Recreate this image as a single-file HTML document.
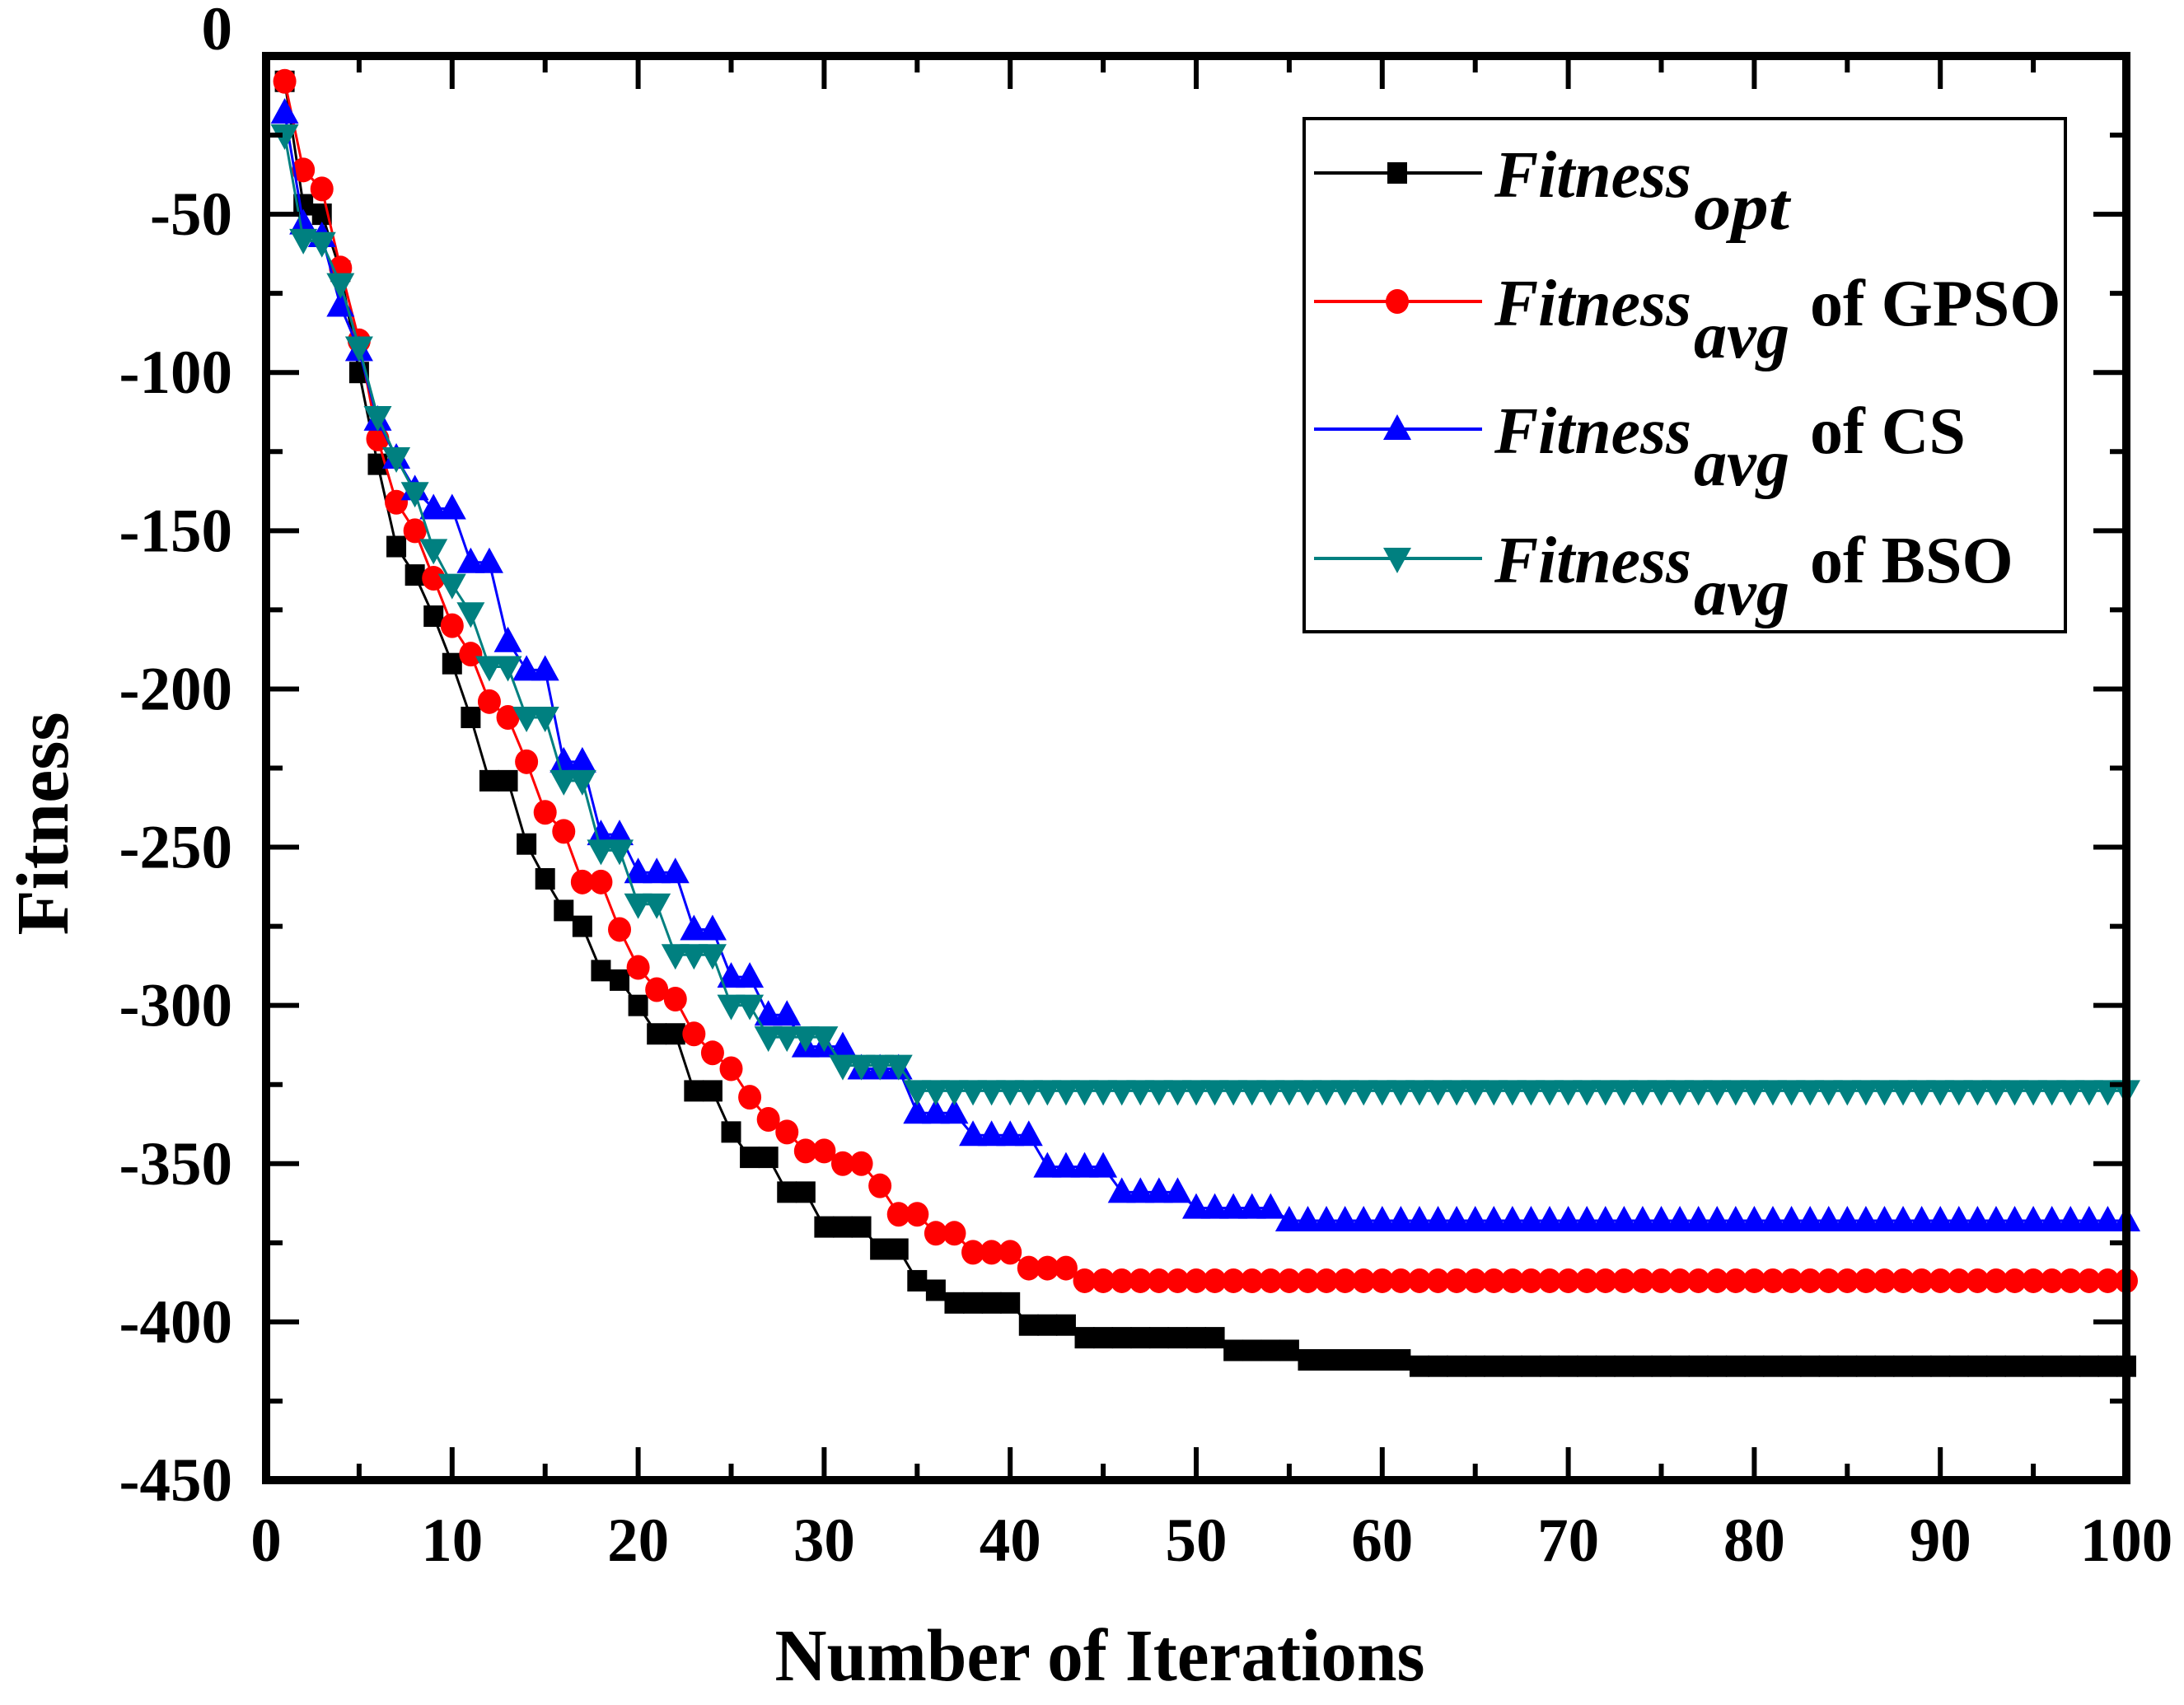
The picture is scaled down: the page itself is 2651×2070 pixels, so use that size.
<!DOCTYPE html>
<html><head><meta charset="utf-8"><style>
html,body{margin:0;padding:0;background:#fff;}
svg{display:block;}
text{font-family:"Liberation Serif",serif;font-weight:bold;}
</style></head><body>
<svg id="chart" width="2651" height="2070" viewBox="0 0 2651 2070" xmlns="http://www.w3.org/2000/svg">
<g id="series"></g>
<g id="axes"></g>
<g id="legend">
<rect x="1583" y="144" width="924" height="623" fill="#fff" stroke="#000" stroke-width="4"/>
</g>
<text x="1335" y="2040" font-size="90" text-anchor="middle" textLength="789" lengthAdjust="spacingAndGlyphs">Number of Iterations</text>
<text x="0" y="0" font-size="90" text-anchor="middle" transform="translate(82,1000) rotate(-90)" textLength="271" lengthAdjust="spacingAndGlyphs">Fitness</text>
</svg>
<script>
const xTicks=[0,10,20,30,40,50,60,70,80,90,100];
const yTicks=[0,-50,-100,-150,-200,-250,-300,-350,-400,-450];
const opt=[-8,-47,-50,-68,-100,-129,-155,-164,-177,-192,-209,-229,-229,-249,-260,-270,-275,-289,-292,-300,-309,-309,-327,-327,-340,-348,-348,-359,-359,-370,-370,-370,-377,-377,-387,-390,-394,-394,-394,-394,-401,-401,-401,-405,-405,-405,-405,-405,-405,-405,-405,-409,-409,-409,-409,-412,-412,-412,-412,-412,-412,-414,-414,-414,-414,-414,-414,-414,-414,-414,-414,-414,-414,-414,-414,-414,-414,-414,-414,-414,-414,-414,-414,-414,-414,-414,-414,-414,-414,-414,-414,-414,-414,-414,-414,-414,-414,-414,-414,-414];
const gpso=[-8,-36,-42,-67,-90,-121,-141,-150,-165,-180,-189,-204,-209,-223,-239,-245,-261,-261,-276,-288,-295,-298,-309,-315,-320,-329,-336,-340,-346,-346,-350,-350,-357,-366,-366,-372,-372,-378,-378,-378,-383,-383,-383,-387,-387,-387,-387,-387,-387,-387,-387,-387,-387,-387,-387,-387,-387,-387,-387,-387,-387,-387,-387,-387,-387,-387,-387,-387,-387,-387,-387,-387,-387,-387,-387,-387,-387,-387,-387,-387,-387,-387,-387,-387,-387,-387,-387,-387,-387,-387,-387,-387,-387,-387,-387,-387,-387,-387,-387,-387];
const cs=[-18,-53,-57,-79,-93,-115,-127,-137,-143,-143,-160,-160,-185,-194,-194,-223,-223,-246,-246,-258,-258,-258,-276,-276,-291,-291,-303,-303,-313,-313,-313,-320,-320,-320,-334,-334,-334,-341,-341,-341,-341,-351,-351,-351,-351,-359,-359,-359,-359,-364,-364,-364,-364,-364,-368,-368,-368,-368,-368,-368,-368,-368,-368,-368,-368,-368,-368,-368,-368,-368,-368,-368,-368,-368,-368,-368,-368,-368,-368,-368,-368,-368,-368,-368,-368,-368,-368,-368,-368,-368,-368,-368,-368,-368,-368,-368,-368,-368,-368,-368];
const bso=[-25,-58,-59,-72,-92,-114,-127,-138,-156,-167,-176,-193,-193,-209,-209,-229,-229,-251,-251,-268,-268,-284,-284,-284,-300,-300,-310,-310,-310,-310,-319,-319,-319,-319,-327,-327,-327,-327,-327,-327,-327,-327,-327,-327,-327,-327,-327,-327,-327,-327,-327,-327,-327,-327,-327,-327,-327,-327,-327,-327,-327,-327,-327,-327,-327,-327,-327,-327,-327,-327,-327,-327,-327,-327,-327,-327,-327,-327,-327,-327,-327,-327,-327,-327,-327,-327,-327,-327,-327,-327,-327,-327,-327,-327,-327,-327,-327,-327,-327,-327];

const NS="http://www.w3.org/2000/svg";
const X0=323,X1=2581,Y0=68,Y1=1797;
function sx(v){return X0+(v-0)/(100-0)*(X1-X0);}
function sy(v){return Y0+(0-v)/(0-(-450))*(Y1-Y0);}
function mk(tag,attrs,parent){const e=document.createElementNS(NS,tag);for(const k in attrs)e.setAttribute(k,attrs[k]);parent.appendChild(e);return e;}

const seriesG=document.getElementById('series');
const axesG=document.getElementById('axes');
const legendG=document.getElementById('legend');

function marker(type,cx,cy,color,parent){
  let e;
  if(type==='square'){e=mk('rect',{x:cx-12,y:cy-13,width:24,height:26,fill:color},parent);}
  else if(type==='circle'){e=mk('ellipse',{cx:cx,cy:cy,rx:14,ry:15,fill:color},parent);}
  else if(type==='up'){e=mk('polygon',{points:`${cx},${cy-18} ${cx-17},${cy+13} ${cx+17},${cy+13}`,fill:color},parent);}
  else {e=mk('polygon',{points:`${cx},${cy+18} ${cx-17},${cy-13} ${cx+17},${cy-13}`,fill:color},parent);}
  return e;
}

const defs=[
 {vals:opt,color:'#000000',type:'square',name:'fitness-opt'},
 {vals:gpso,color:'#ff0000',type:'circle',name:'gpso'},
 {vals:cs,color:'#0000ff',type:'up',name:'cs'},
 {vals:bso,color:'#008080',type:'down',name:'bso'}
];
defs.forEach(d=>{
  const g=mk('g',{},seriesG);
  
  
  const pts=d.vals.map((v,i)=>sx(i+1)+','+sy(v)).join(' ');
  const pl=mk('polyline',{points:pts,fill:'none',stroke:d.color,'stroke-width':3},g);
  
  
  d.vals.forEach((v,i)=>{
    const m=marker(d.type,sx(i+1),sy(v),d.color,g);
    
    
  });
});

// frame
const frame=mk('rect',{x:X0,y:Y0,width:X1-X0,height:Y1-Y0,fill:'none',stroke:'#000','stroke-width':10},axesG);


// x ticks
for(let v=0;v<=100;v+=5){
  const major=v%10===0, L=major?40:20, x=sx(v);
  const t1=mk('line',{x1:x,y1:Y1,x2:x,y2:Y1-L,stroke:'#000','stroke-width':6},axesG);
  
  
  const t2=mk('line',{x1:x,y1:Y0,x2:x,y2:Y0+L,stroke:'#000','stroke-width':6},axesG);
  
  
}
xTicks.forEach(v=>{
  const t=mk('text',{x:sx(v),y:1895,'font-size':75,'text-anchor':'middle'},axesG);
  t.textContent=String(v);
  
  
});
for(let v=0;v>=-450;v-=25){
  const major=v%50===0, L=major?40:20, y=sy(v);
  const t1=mk('line',{x1:X0,y1:y,x2:X0+L,y2:y,stroke:'#000','stroke-width':6},axesG);
  
  
  const t2=mk('line',{x1:X1,y1:y,x2:X1-L,y2:y,stroke:'#000','stroke-width':6},axesG);
  
  
}
yTicks.forEach(v=>{
  const t=mk('text',{x:282,y:sy(v)+(v===0?-8:25),'font-size':75,'text-anchor':'end'},axesG);
  t.textContent=String(v);
  
  
});

// legend entries
const legRows=[
 {y:210,color:'#000000',type:'square',sub:'opt',rest:''},
 {y:366,color:'#ff0000',type:'circle',sub:'avg',rest:'of GPSO'},
 {y:521,color:'#0000ff',type:'up',sub:'avg',rest:'of CS'},
 {y:678,color:'#008080',type:'down',sub:'avg',rest:'of BSO'}
];
legRows.forEach(r=>{
  const g=mk('g',{},legendG);
  
  
  mk('line',{x1:1595,y1:r.y,x2:1799,y2:r.y,stroke:r.color,'stroke-width':4},g);
  marker(r.type,1696,r.y,r.color,g);
  const t1=mk('text',{x:1814,y:r.y+29,'font-size':80,'font-style':'italic',textLength:239,lengthAdjust:'spacingAndGlyphs'},g);
  t1.textContent='Fitness';
  const t2=mk('text',{x:2056,y:r.y+68,'font-size':80,'font-style':'italic',textLength:116,lengthAdjust:'spacingAndGlyphs'},g);
  t2.textContent=r.sub;
  if(r.rest){
    const t3=mk('text',{x:2197,y:r.y+29,'font-size':80},g);
    t3.textContent=r.rest;
  }
});
</script>
</body></html>
